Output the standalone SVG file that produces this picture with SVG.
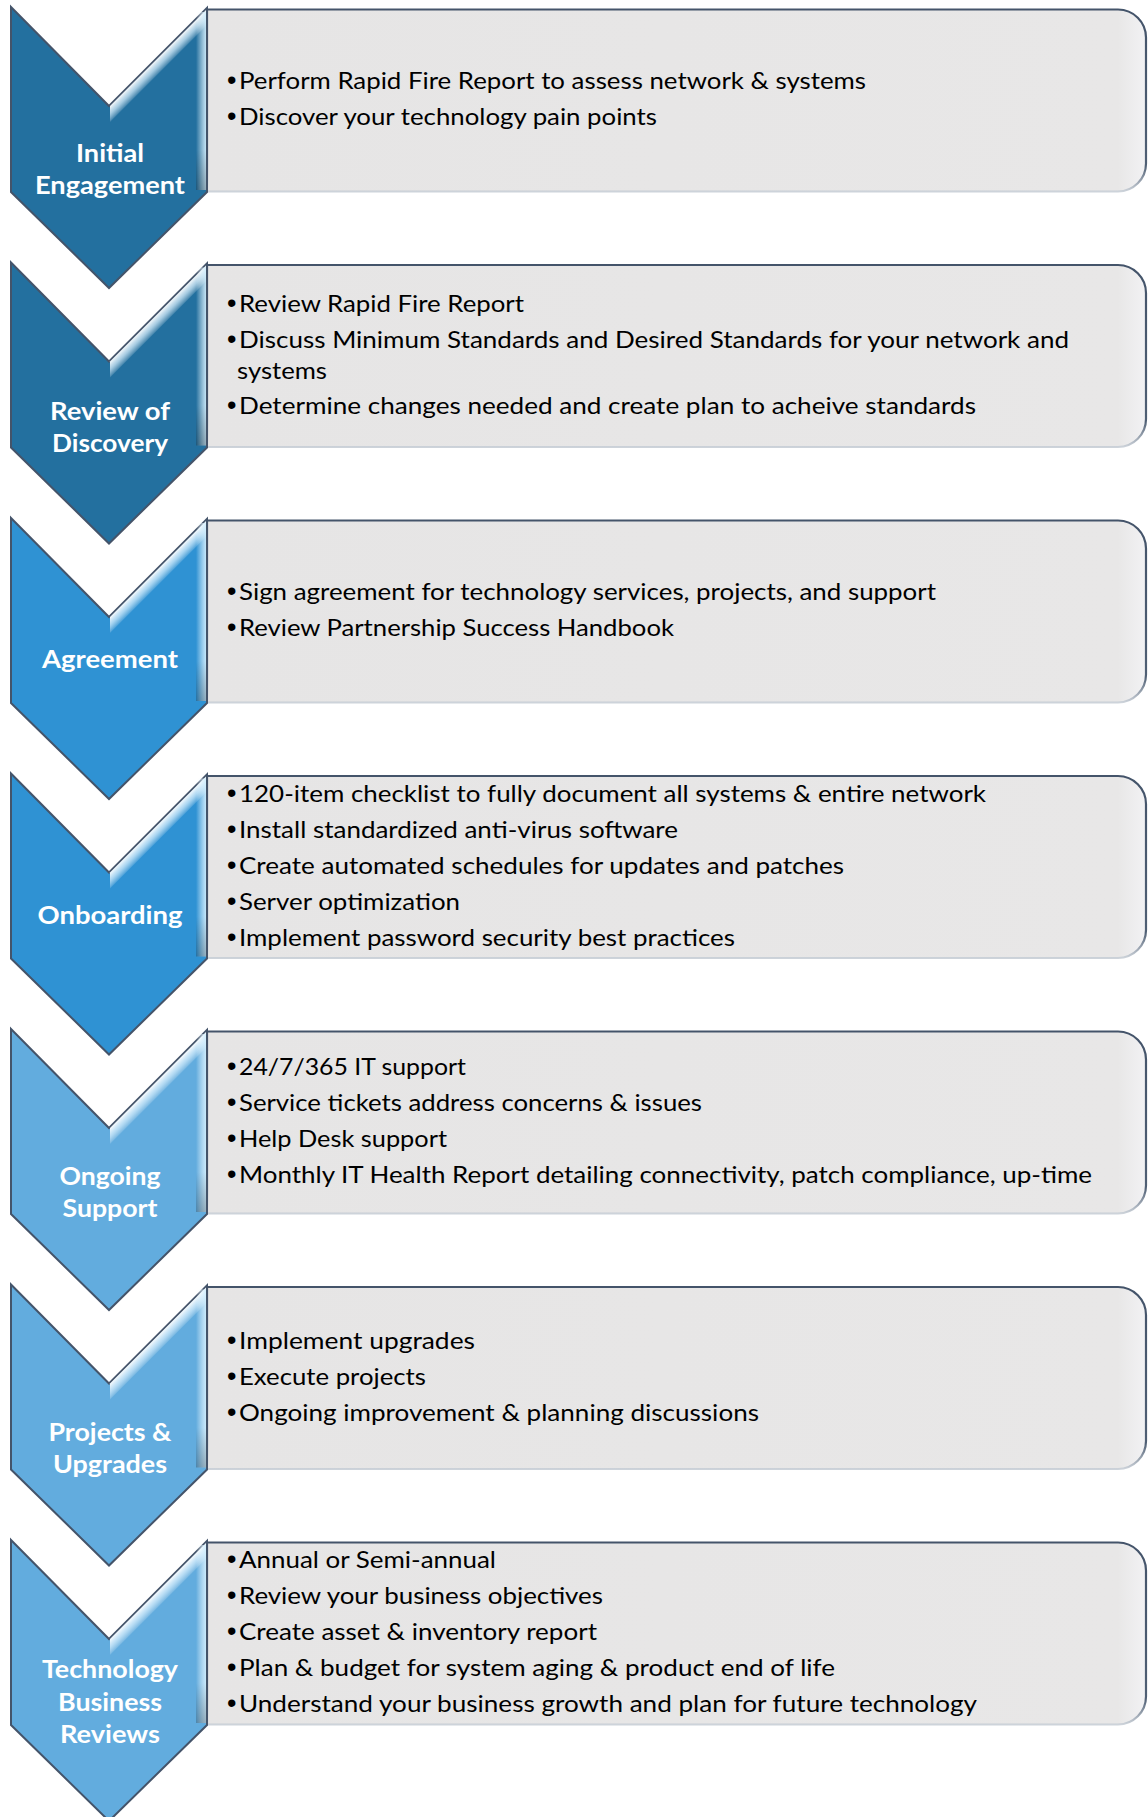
<svg xmlns="http://www.w3.org/2000/svg" width="1148" height="1817" viewBox="0 0 1148 1817">
<defs>
  <linearGradient id="armHl" gradientUnits="userSpaceOnUse" x1="158" y1="58" x2="167" y2="67">
    <stop offset="0" stop-color="#ffffff" stop-opacity="0.95"/>
    <stop offset="0.45" stop-color="#dff3ff" stop-opacity="0.7"/>
    <stop offset="1" stop-color="#ffffff" stop-opacity="0"/>
  </linearGradient>
  <linearGradient id="edgeHl" gradientUnits="userSpaceOnUse" x1="196" y1="0" x2="206" y2="0">
    <stop offset="0" stop-color="#ffffff" stop-opacity="0"/>
    <stop offset="1" stop-color="#d4f0ff" stop-opacity="0.9"/>
  </linearGradient>
  <linearGradient id="edgeShade" gradientUnits="userSpaceOnUse" x1="0" y1="150" x2="0" y2="192">
    <stop offset="0" stop-color="#000000" stop-opacity="0"/>
    <stop offset="1" stop-color="#000000" stop-opacity="0.25"/>
  </linearGradient>
  <linearGradient id="boxStroke" x1="0" y1="0" x2="0" y2="1">
    <stop offset="0" stop-color="#44546A"/>
    <stop offset="0.86" stop-color="#4f5f74"/>
    <stop offset="1" stop-color="#cdd3da"/>
  </linearGradient>
  <linearGradient id="boxFill" x1="0" y1="0" x2="1" y2="0">
    <stop offset="0" stop-color="#e6e5e5"/>
    <stop offset="0.97" stop-color="#e8e7e7"/>
    <stop offset="1" stop-color="#f2f2f4"/>
  </linearGradient>
</defs>
<style>
  .box { fill: url(#boxFill); stroke: url(#boxStroke); stroke-width: 2.2; }
  .chev { stroke: #44546A; stroke-width: 2; stroke-linejoin: miter; }
  .c1 { fill: #23709F; }
  .c2 { fill: #2F92D3; }
  .c3 { fill: #62ACDE; }
  .hl { fill: url(#armHl); }
  .eh { fill: url(#edgeHl); }
  .es { fill: url(#edgeShade); }
  .lbl { font-family: Lato, "Open Sans", "Liberation Sans", sans-serif; font-weight: 700; font-size: 25px; fill: #ffffff; text-anchor: middle; }
  .body { font-family: Lato, "Open Sans", "Liberation Sans", sans-serif; font-size: 24px; fill: #000000; }
  .b { font-family: "Liberation Sans", Arial, sans-serif; font-size: 27px; }
</style>

<g id="stage1" transform="translate(0,0)">
  <path class="box" d="M207,9.5 H1118 A28,28 0 0 1 1146,37.5 V163.5 A28,28 0 0 1 1118,191.5 H207 Z"/>
  <path class="chev c1" d="M11,7 L109,106 L207,8 L207,192 L109,288 L11,192 Z"/>
  <path class="hl" d="M110,106 L206,10 L206,26 L110,122 Z"/>
  <rect class="eh" x="196" y="12" width="10" height="178"/>
  <rect class="es" x="196" y="150" width="10" height="40"/>
  <text class="lbl"><tspan x="110" y="162" textLength="68" lengthAdjust="spacingAndGlyphs">Initial</tspan><tspan x="110" y="194" textLength="150" lengthAdjust="spacingAndGlyphs">Engagement</tspan></text>
  <text class="body"><tspan class="b" x="227" y="89">•</tspan><tspan x="239" y="89" textLength="627" lengthAdjust="spacingAndGlyphs">Perform Rapid Fire Report to assess network &amp; systems</tspan></text>
  <text class="body"><tspan class="b" x="227" y="125">•</tspan><tspan x="239" y="125" textLength="418" lengthAdjust="spacingAndGlyphs">Discover your technology pain points</tspan></text>
</g>

<g id="stage2" transform="translate(0,255.5)">
  <path class="box" d="M207,9.5 H1118 A28,28 0 0 1 1146,37.5 V163.5 A28,28 0 0 1 1118,191.5 H207 Z"/>
  <path class="chev c1" d="M11,7 L109,106 L207,8 L207,192 L109,288 L11,192 Z"/>
  <path class="hl" d="M110,106 L206,10 L206,26 L110,122 Z"/>
  <rect class="eh" x="196" y="12" width="10" height="178"/>
  <rect class="es" x="196" y="150" width="10" height="40"/>
  <text class="lbl"><tspan x="110" y="164" textLength="120" lengthAdjust="spacingAndGlyphs">Review of</tspan><tspan x="110" y="196" textLength="116" lengthAdjust="spacingAndGlyphs">Discovery</tspan></text>
  <text class="body"><tspan class="b" x="227" y="56">•</tspan><tspan x="239" y="56" textLength="285" lengthAdjust="spacingAndGlyphs">Review Rapid Fire Report</tspan></text>
  <text class="body"><tspan class="b" x="227" y="92">•</tspan><tspan x="239" y="92" textLength="830" lengthAdjust="spacingAndGlyphs">Discuss Minimum Standards and Desired Standards for your network and</tspan><tspan x="237" y="123" textLength="90" lengthAdjust="spacingAndGlyphs">systems</tspan></text>
  <text class="body"><tspan class="b" x="227" y="158">•</tspan><tspan x="239" y="158" textLength="737" lengthAdjust="spacingAndGlyphs">Determine changes needed and create plan to acheive standards</tspan></text>
</g>

<g id="stage3" transform="translate(0,511)">
  <path class="box" d="M207,9.5 H1118 A28,28 0 0 1 1146,37.5 V163.5 A28,28 0 0 1 1118,191.5 H207 Z"/>
  <path class="chev c2" d="M11,7 L109,106 L207,8 L207,192 L109,288 L11,192 Z"/>
  <path class="hl" d="M110,106 L206,10 L206,26 L110,122 Z"/>
  <rect class="eh" x="196" y="12" width="10" height="178"/>
  <rect class="es" x="196" y="150" width="10" height="40"/>
  <text class="lbl" x="110" y="157" textLength="136" lengthAdjust="spacingAndGlyphs">Agreement</text>
  <text class="body"><tspan class="b" x="227" y="89">•</tspan><tspan x="239" y="89" textLength="697" lengthAdjust="spacingAndGlyphs">Sign agreement for technology services, projects, and support</tspan></text>
  <text class="body"><tspan class="b" x="227" y="125">•</tspan><tspan x="239" y="125" textLength="435" lengthAdjust="spacingAndGlyphs">Review Partnership Success Handbook</tspan></text>
</g>

<g id="stage4" transform="translate(0,766.5)">
  <path class="box" d="M207,9.5 H1118 A28,28 0 0 1 1146,37.5 V163.5 A28,28 0 0 1 1118,191.5 H207 Z"/>
  <path class="chev c2" d="M11,7 L109,106 L207,8 L207,192 L109,288 L11,192 Z"/>
  <path class="hl" d="M110,106 L206,10 L206,26 L110,122 Z"/>
  <rect class="eh" x="196" y="12" width="10" height="178"/>
  <rect class="es" x="196" y="150" width="10" height="40"/>
  <text class="lbl" x="110" y="157" textLength="145" lengthAdjust="spacingAndGlyphs">Onboarding</text>
  <text class="body"><tspan class="b" x="227" y="35">•</tspan><tspan x="239" y="35" textLength="747" lengthAdjust="spacingAndGlyphs">120-item checklist to fully document all systems &amp; entire network</tspan></text>
  <text class="body"><tspan class="b" x="227" y="71">•</tspan><tspan x="239" y="71" textLength="439" lengthAdjust="spacingAndGlyphs">Install standardized anti-virus software</tspan></text>
  <text class="body"><tspan class="b" x="227" y="107">•</tspan><tspan x="239" y="107" textLength="605" lengthAdjust="spacingAndGlyphs">Create automated schedules for updates and patches</tspan></text>
  <text class="body"><tspan class="b" x="227" y="143">•</tspan><tspan x="239" y="143" textLength="221" lengthAdjust="spacingAndGlyphs">Server optimization</tspan></text>
  <text class="body"><tspan class="b" x="227" y="179">•</tspan><tspan x="239" y="179" textLength="496" lengthAdjust="spacingAndGlyphs">Implement password security best practices</tspan></text>
</g>

<g id="stage5" transform="translate(0,1022)">
  <path class="box" d="M207,9.5 H1118 A28,28 0 0 1 1146,37.5 V163.5 A28,28 0 0 1 1118,191.5 H207 Z"/>
  <path class="chev c3" d="M11,7 L109,106 L207,8 L207,192 L109,288 L11,192 Z"/>
  <path class="hl" d="M110,106 L206,10 L206,26 L110,122 Z"/>
  <rect class="eh" x="196" y="12" width="10" height="178"/>
  <rect class="es" x="196" y="150" width="10" height="40"/>
  <text class="lbl"><tspan x="110" y="163" textLength="101" lengthAdjust="spacingAndGlyphs">Ongoing</tspan><tspan x="110" y="195" textLength="95" lengthAdjust="spacingAndGlyphs">Support</tspan></text>
  <text class="body"><tspan class="b" x="227" y="53">•</tspan><tspan x="239" y="53" textLength="227" lengthAdjust="spacingAndGlyphs">24/7/365 IT support</tspan></text>
  <text class="body"><tspan class="b" x="227" y="89">•</tspan><tspan x="239" y="89" textLength="463" lengthAdjust="spacingAndGlyphs">Service tickets address concerns &amp; issues</tspan></text>
  <text class="body"><tspan class="b" x="227" y="125">•</tspan><tspan x="239" y="125" textLength="208" lengthAdjust="spacingAndGlyphs">Help Desk support</tspan></text>
  <text class="body"><tspan class="b" x="227" y="161">•</tspan><tspan x="239" y="161" textLength="853" lengthAdjust="spacingAndGlyphs">Monthly IT Health Report detailing connectivity, patch compliance, up-time</tspan></text>
</g>

<g id="stage6" transform="translate(0,1277.5)">
  <path class="box" d="M207,9.5 H1118 A28,28 0 0 1 1146,37.5 V163.5 A28,28 0 0 1 1118,191.5 H207 Z"/>
  <path class="chev c3" d="M11,7 L109,106 L207,8 L207,192 L109,288 L11,192 Z"/>
  <path class="hl" d="M110,106 L206,10 L206,26 L110,122 Z"/>
  <rect class="eh" x="196" y="12" width="10" height="178"/>
  <rect class="es" x="196" y="150" width="10" height="40"/>
  <text class="lbl"><tspan x="110" y="163" textLength="123" lengthAdjust="spacingAndGlyphs">Projects &amp;</tspan><tspan x="110" y="195" textLength="114" lengthAdjust="spacingAndGlyphs">Upgrades</tspan></text>
  <text class="body"><tspan class="b" x="227" y="71">•</tspan><tspan x="239" y="71" textLength="236" lengthAdjust="spacingAndGlyphs">Implement upgrades</tspan></text>
  <text class="body"><tspan class="b" x="227" y="107">•</tspan><tspan x="239" y="107" textLength="187" lengthAdjust="spacingAndGlyphs">Execute projects</tspan></text>
  <text class="body"><tspan class="b" x="227" y="143">•</tspan><tspan x="239" y="143" textLength="520" lengthAdjust="spacingAndGlyphs">Ongoing improvement &amp; planning discussions</tspan></text>
</g>

<g id="stage7" transform="translate(0,1533)">
  <path class="box" d="M207,9.5 H1118 A28,28 0 0 1 1146,37.5 V163.5 A28,28 0 0 1 1118,191.5 H207 Z"/>
  <path class="chev c3" d="M11,7 L109,106 L207,8 L207,192 L109,288 L11,192 Z"/>
  <path class="hl" d="M110,106 L206,10 L206,26 L110,122 Z"/>
  <rect class="eh" x="196" y="12" width="10" height="178"/>
  <rect class="es" x="196" y="150" width="10" height="40"/>
  <text class="lbl"><tspan x="110" y="145" textLength="136" lengthAdjust="spacingAndGlyphs">Technology</tspan><tspan x="110" y="178" textLength="104" lengthAdjust="spacingAndGlyphs">Business</tspan><tspan x="110" y="210" textLength="100" lengthAdjust="spacingAndGlyphs">Reviews</tspan></text>
  <text class="body"><tspan class="b" x="227" y="35">•</tspan><tspan x="239" y="35" textLength="257" lengthAdjust="spacingAndGlyphs">Annual or Semi-annual</tspan></text>
  <text class="body"><tspan class="b" x="227" y="71">•</tspan><tspan x="239" y="71" textLength="364" lengthAdjust="spacingAndGlyphs">Review your business objectives</tspan></text>
  <text class="body"><tspan class="b" x="227" y="107">•</tspan><tspan x="239" y="107" textLength="358" lengthAdjust="spacingAndGlyphs">Create asset &amp; inventory report</tspan></text>
  <text class="body"><tspan class="b" x="227" y="143">•</tspan><tspan x="239" y="143" textLength="596" lengthAdjust="spacingAndGlyphs">Plan &amp; budget for system aging &amp; product end of life</tspan></text>
  <text class="body"><tspan class="b" x="227" y="179">•</tspan><tspan x="239" y="179" textLength="738" lengthAdjust="spacingAndGlyphs">Understand your business growth and plan for future technology</tspan></text>
</g>

<g id="connectors"></g>
</svg>
